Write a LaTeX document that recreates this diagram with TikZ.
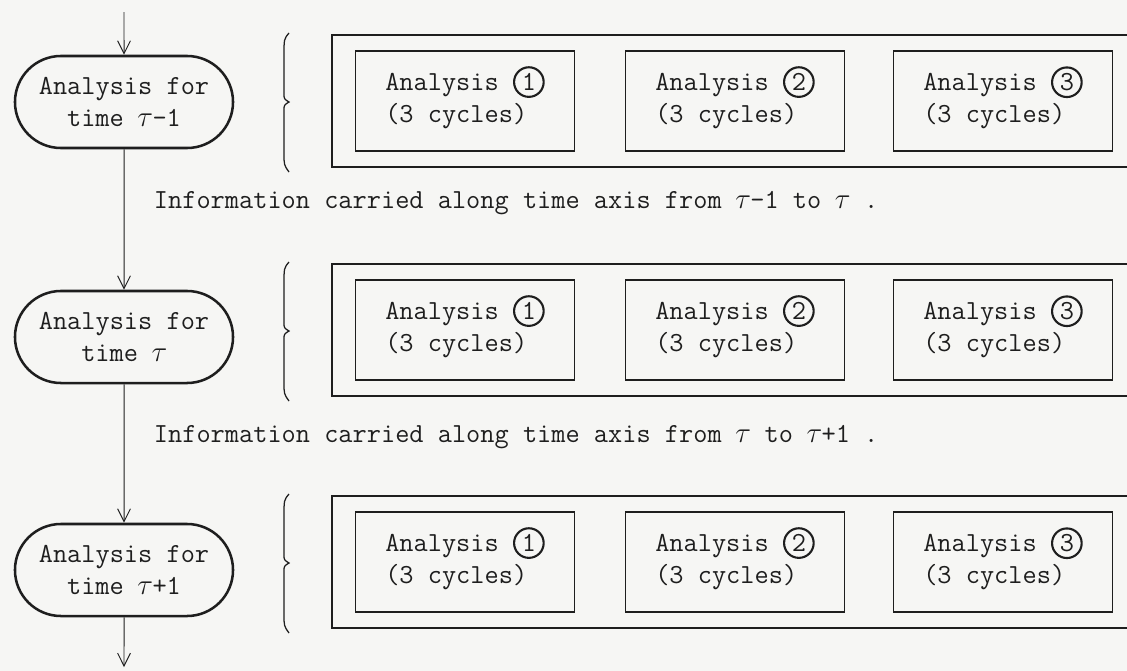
\documentclass[tikz,border=0pt]{standalone}
\usepackage{fontspec}
\usetikzlibrary{arrows.meta,positioning,shapes.misc}

\definecolor{paper}{RGB}{246,246,244}
\definecolor{ink}{RGB}{30,30,30}

\newcommand{\tu}{\makebox[0.525em]{$\tau$}}
\newcommand{\cnum}[1]{\smash{\tikz[baseline=(num.base)]\node[draw=ink,circle,line width=1.5pt,minimum size=0.74cm,inner sep=0pt] (num) {#1};}}

\begin{document}
\begin{tikzpicture}[x=0.025cm,y=-0.025cm,>={Straight Barb[length=3.2mm,width=3.2mm]},font=\ttfamily\fontsize{19.6}{22.5}\selectfont,color=ink]
  \tikzstyle{stage}=[draw,rounded rectangle,line width=1.8pt,minimum width=5.45cm,minimum height=2.3cm,align=center,inner sep=0pt]
  \tikzstyle{frame}=[draw,line width=1.1pt,minimum width=20.4cm,minimum height=3.3cm]
  \tikzstyle{pass}=[draw,line width=1.1pt,minimum width=5.475cm,minimum height=2.5cm,align=left]
  \tikzstyle{flow}=[->,line width=0.7pt]
  \fill[paper] (0,0) rectangle (1127,671);
  \clip (0,0) rectangle (1127,671);
  % one row per time step: stage, brace, frame with three passes
  \foreach \r/\T/\sy/\lab in {1/35/102/{\tu-1},2/264/337/{\tu},3/496/570/{\tu+1}} {
    \node[stage] (s\r) at (124,\sy) {Analysis for\\time \lab};
    \node[frame] (f\r) at (740,\T+66) {};
    \foreach \k/\x in {1/465,2/735,3/1003}
      \node[pass] (p\r\k) at (\x,\T+66) {Analysis \cnum{\k}\\(3 cycles)};
    \draw[line width=0.9pt] (289,\T-2) .. controls (284,\T+4) .. (284,\T+20) -- (284,\T+58)
      .. controls (284,\T+64) .. (289,\T+67) .. controls (284,\T+70) .. (284,\T+76)
      -- (284,\T+118) .. controls (284,\T+130) .. (289,\T+137);
  }
  \node[anchor=west] (info1) at (149,203) {Information carried along time axis from \tu-1 to \tu\ .};
  \node[anchor=west] (info2) at (149,437) {Information carried along time axis from \tu{} to \tu+1 .};
  % time axis
  \coordinate (top) at (124,12);
  \coordinate (bottom) at (124,667);
  \draw[flow] (top) -- (s1);
  \foreach \a/\b in {s1/s2,s2/s3}
    \draw[flow] (\a) -- (\b);
  \draw[flow] (s3) -- (bottom);
\end{tikzpicture}
\end{document}
